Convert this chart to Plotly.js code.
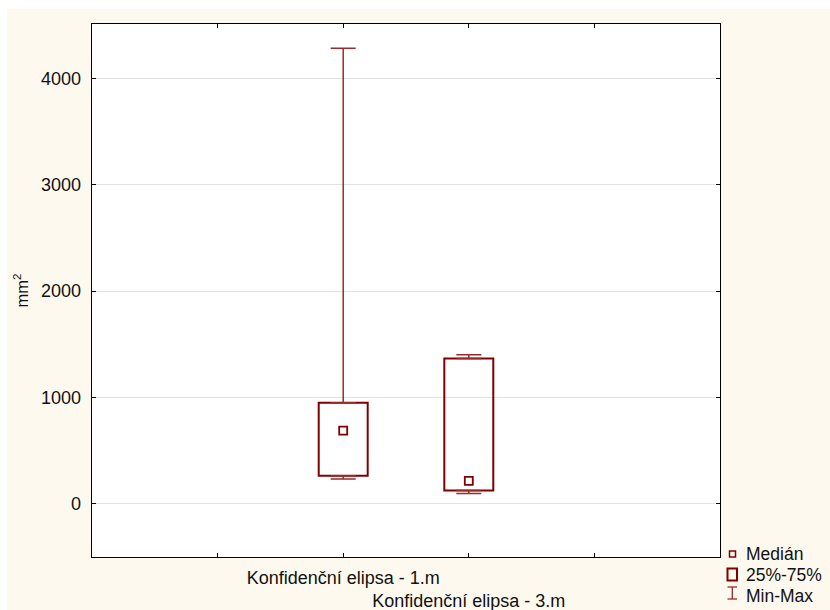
<!DOCTYPE html>
<html>
<head>
<meta charset="utf-8">
<script src="https://cdn.plot.ly/plotly-3.0.1.min.js"></script>
<style>html,body{margin:0;padding:0;background:#fff;}</style>
</head>
<body>
<div id="chart" style="width:830px;height:610px;"></div>
<script>
// ---- data ----
const categories = ['Konfidenční elipsa - 1.m', 'Konfidenční elipsa - 3.m'];
const minVals    = [232, 97];
const q1Vals     = [263, 125];
const medianVals = [688, 216];
const q3Vals     = [951, 1366];
const maxVals    = [4282, 1402];
const yTickVals  = [0, 1000, 2000, 3000, 4000];
const legendLabels = ['Medián', '25%-75%', 'Min-Max'];
const yTitle = 'mm<sup>2</sup>';

// ---- styling ----
const DARK = '#800000';
const WHISK = '#9a2a2a';
const FONT = 'Liberation Sans, Arial, sans-serif';
const W = 830, H = 610;
const M = {l: 92, r: 110, t: 24, b: 53};
const PW = W - M.l - M.r, PH = H - M.t - M.b;
const px = v => (v - M.l) / PW;
const py = v => (H - M.b - v) / PH;

// box bodies (25%-75%)
const boxTrace = {
  type: 'bar', x: categories, base: q1Vals,
  y: q3Vals.map((v, i) => v - q1Vals[i]),
  width: 0.39,
  marker: {color: 'rgba(255,255,255,0)', line: {color: DARK, width: 2}},
  showlegend: false, hoverinfo: 'skip'
};
// upper whisker q3 -> max
const upperWhisker = {
  type: 'scatter', mode: 'markers', x: categories, y: q3Vals,
  marker: {size: 1, opacity: 0},
  error_y: {type: 'data', symmetric: false,
    array: maxVals.map((v, i) => v - q3Vals[i]),
    arrayminus: q3Vals.map(() => 0),
    color: WHISK, thickness: 1.5, width: 12.5},
  showlegend: false, hoverinfo: 'skip'
};
// lower whisker min -> q1
const lowerWhisker = {
  type: 'scatter', mode: 'markers', x: categories, y: q1Vals,
  marker: {size: 1, opacity: 0},
  error_y: {type: 'data', symmetric: false,
    array: q1Vals.map(() => 0),
    arrayminus: q1Vals.map((v, i) => v - minVals[i]),
    color: WHISK, thickness: 1.5, width: 12.5},
  showlegend: false, hoverinfo: 'skip'
};
const medianTrace = {
  type: 'scatter', mode: 'markers', x: categories, y: medianVals,
  marker: {symbol: 'square-open', size: 8, color: DARK, line: {width: 1.8, color: DARK}},
  showlegend: false, hoverinfo: 'skip'
};

// stagger the category labels
const xTickVals = [-2, -1, 0, 1, 2, 3];
const xTickText = xTickVals.map(v => {
  const idx = v;
  if (idx >= 0 && idx < categories.length) {
    return (idx % 2 === 1 ? '<br>' : '') + categories[idx];
  }
  return '';
});

const shapes = [
  // white border strips (left and top) around the cream panel
  {type: 'rect', xref: 'paper', yref: 'paper', layer: 'below',
   x0: px(-5), x1: px(7), y0: py(-5), y1: py(H + 5),
   fillcolor: '#ffffff', line: {width: 0}},
  {type: 'rect', xref: 'paper', yref: 'paper', layer: 'below',
   x0: px(-5), x1: px(W + 5), y0: py(-5), y1: py(9),
   fillcolor: '#ffffff', line: {width: 0}},
  // legend: median small square
  {type: 'rect', xref: 'paper', yref: 'paper',
   x0: px(729.5), x1: px(735.5), y0: py(551), y1: py(557),
   line: {color: DARK, width: 1.5}, fillcolor: 'rgba(0,0,0,0)'},
  // legend: box square
  {type: 'rect', xref: 'paper', yref: 'paper',
   x0: px(727.5), x1: px(737), y0: py(568.5), y1: py(580.5),
   line: {color: DARK, width: 2}, fillcolor: 'rgba(0,0,0,0)'},
  // legend: I-beam
  {type: 'line', xref: 'paper', yref: 'paper',
   x0: px(732.3), x1: px(732.3), y0: py(587), y1: py(599),
   line: {color: WHISK, width: 1.3}},
  {type: 'line', xref: 'paper', yref: 'paper',
   x0: px(727.5), x1: px(737), y0: py(587), y1: py(587),
   line: {color: WHISK, width: 1.3}},
  {type: 'line', xref: 'paper', yref: 'paper',
   x0: px(727.5), x1: px(737), y0: py(599), y1: py(599),
   line: {color: WHISK, width: 1.3}}
];

const legendY = [553.5, 575, 596];
const annotations = legendLabels.map((t, i) => ({
  xref: 'paper', yref: 'paper', x: px(744), y: py(legendY[i]),
  xanchor: 'left', yanchor: 'middle', showarrow: false, text: t,
  font: {family: FONT, size: 17.5, color: '#111'}
}));

const layout = {
  width: W, height: H,
  margin: M,
  paper_bgcolor: '#fdf9ef',
  plot_bgcolor: '#ffffff',
  showlegend: false,
  bargap: 0,
  font: {family: FONT, size: 18, color: '#111'},
  xaxis: {
    type: 'category', range: [-2, 3], autorange: false,
    tickmode: 'array', tickvals: xTickVals, ticktext: xTickText,
    tickangle: 0,
    ticks: 'inside', ticklen: 4, tickcolor: '#000', tickwidth: 1,
    showgrid: false, zeroline: false,
    showline: true, linecolor: '#000', linewidth: 1.3, mirror: 'ticks',
    tickfont: {family: FONT, size: 18, color: '#111'},
    ticklabelstandoff: 4
  },
  yaxis: {
    range: [-500, 4510], autorange: false,
    tickmode: 'array', tickvals: yTickVals,
    ticks: 'inside', ticklen: 4, tickcolor: '#000', tickwidth: 1,
    showgrid: true, gridcolor: '#e2e2e2', gridwidth: 1,
    zeroline: false,
    showline: true, linecolor: '#000', linewidth: 1.3, mirror: 'ticks',
    tickfont: {family: FONT, size: 18, color: '#111'},
    ticklabelstandoff: 6,
    title: {text: yTitle, font: {family: FONT, size: 16.5, color: '#111'}, standoff: 8}
  },
  shapes: shapes,
  annotations: annotations
};

Plotly.newPlot('chart', [boxTrace, upperWhisker, lowerWhisker, medianTrace], layout,
  {displayModeBar: false, staticPlot: true});
</script>
</body>
</html>
